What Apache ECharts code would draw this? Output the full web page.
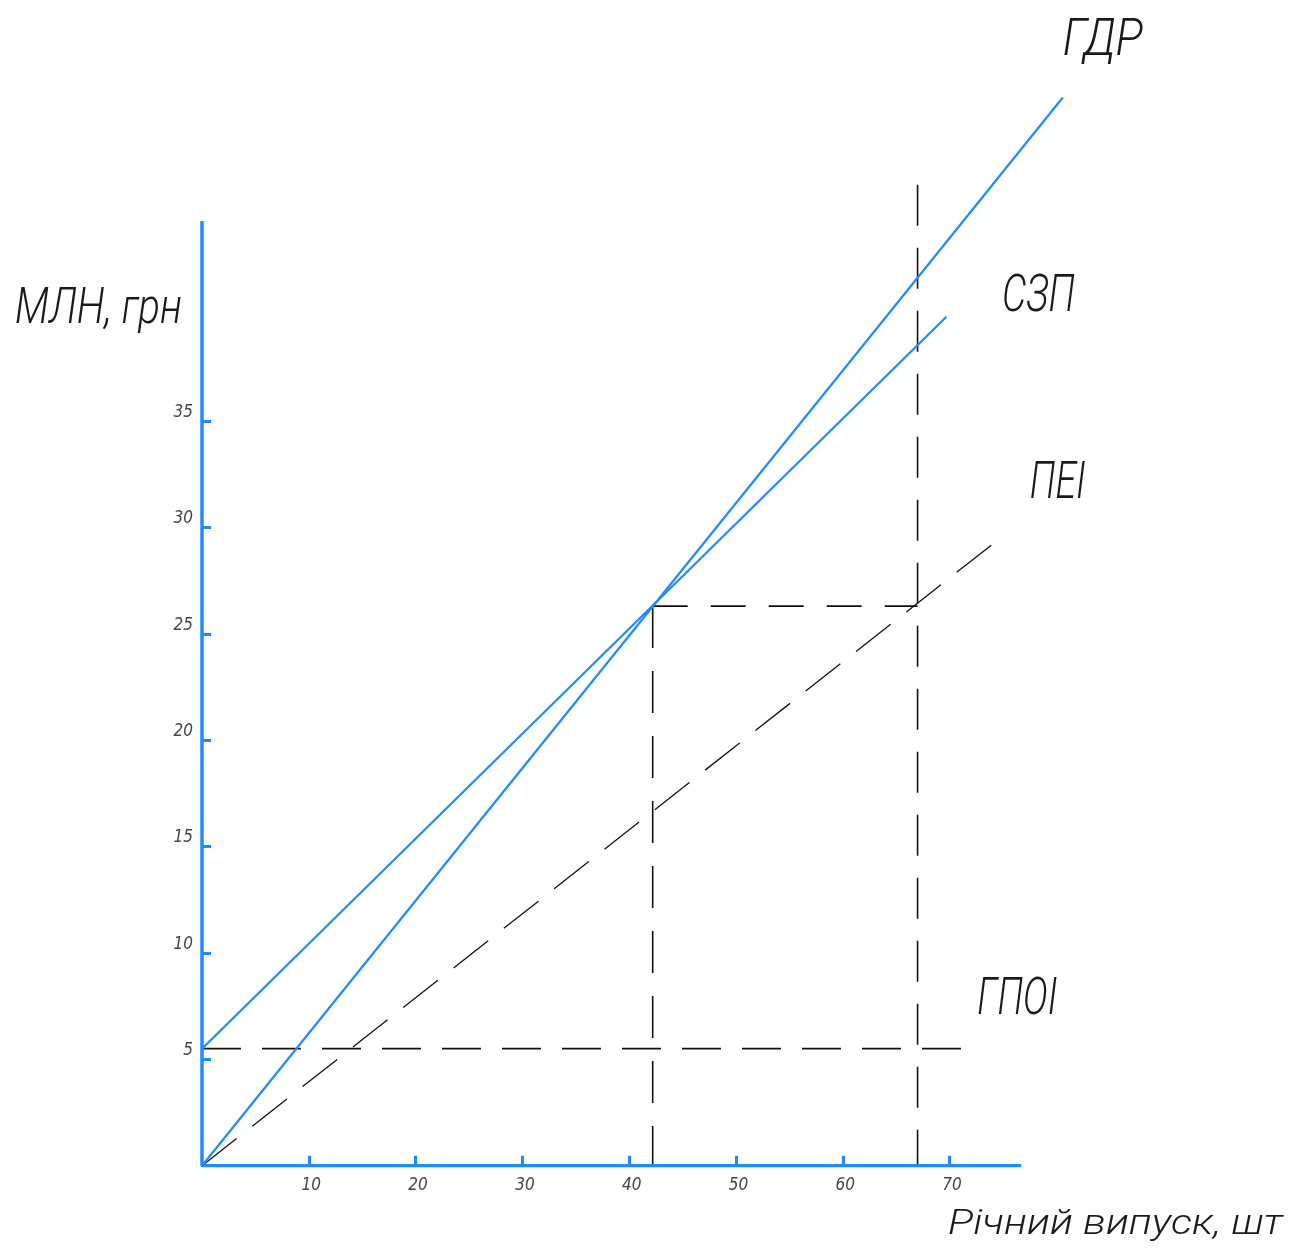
<!DOCTYPE html>
<html><head><meta charset="utf-8">
<script src="https://cdn.jsdelivr.net/npm/echarts@6/dist/echarts.min.js"></script>
<style>html,body{margin:0;padding:0;background:#fff}#c{width:1290px;height:1254px}</style>
</head><body><div id="c"></div>
<script>
// ---- data ----
const xTicks = [10, 20, 30, 40, 50, 60, 70];
const yTicks = [5, 10, 15, 20, 25, 30, 35];
const axisFrame = [[0, 44.4], [0, 0], [76.7, 0]];
const revenueGDR = [[0, 0], [80.6, 50.2]];
const totalCostSZP = [[0, 5.5], [69.7, 39.9]];
const variableCostPEI = [[0, 0], [74.5, 29.4]];
const fixedCostGPOI = [[0, 5.5], [72.0, 5.5]];
const breakEvenV = [[42.2, 26.3], [42.2, 0]];
const breakEvenH = [[42.2, 26.3], [67, 26.3]];
const capacityV = [[67, 46.1], [67, 0]];
const lineNames = ['ГДР', 'СЗП', 'ПЕІ', 'ГПОІ'];
const lineNameAnchors = [[80.6, 52.8], [74.9, 40.8], [77.5, 32.0], [72.6, 7.75]];
const lineNameWidths = [80, 73, 56, 80];
const yTitle = 'МЛН, грн';
const xTitle = 'Річний випуск, шт';

const FONT = '"DejaVu Sans Condensed", "DejaVu Sans", sans-serif';
const TFONT = 'Roboto, "DejaVu Sans", sans-serif';
const BLUE = '#1f8bff';
const BLACK = '#111';

function lineSeries(data, color, width, type) {
  return {
    type: 'line', data: data, symbol: 'none', showSymbol: false, silent: true,
    lineStyle: { color: color, width: width, type: type || 'solid' }, z: type ? 2 : 3
  };
}

const option = {
  animation: false,
  backgroundColor: '#fff',
  grid: { left: 202, right: 20, top: 16.7, bottom: 88.3 },
  xAxis: {
    type: 'value', min: 0, max: 100,
    splitLine: { show: false },
    axisLine: { show: false },
    axisTick: { show: true, inside: true, length: 10, customValues: xTicks, lineStyle: { color: BLUE, width: 3 } },
    axisLabel: { customValues: xTicks, margin: 11, fontStyle: 'italic', fontSize: 17, color: '#444', fontFamily: FONT, padding: [0, 0, 0, 5] }
  },
  yAxis: {
    type: 'value', min: 0, max: 54,
    splitLine: { show: false },
    axisLine: { show: false },
    axisTick: { show: true, inside: true, length: 9, customValues: yTicks, lineStyle: { color: BLUE, width: 3 } },
    axisLabel: { customValues: yTicks, margin: 9, verticalAlign: 'bottom', fontStyle: 'italic', fontSize: 17, color: '#444', fontFamily: FONT }
  },
  series: [
    lineSeries(axisFrame, BLUE, 3.5),
    lineSeries(revenueGDR, BLUE, 2.2),
    lineSeries(totalCostSZP, BLUE, 2.2),
    lineSeries(variableCostPEI, BLACK, 1.3, [44, 20]),
    lineSeries(fixedCostGPOI, BLACK, 1.6, [39, 21]),
    lineSeries(breakEvenV, BLACK, 1.6, [42, 23]),
    lineSeries(breakEvenH, BLACK, 1.6, [35, 23]),
    lineSeries(capacityV, BLACK, 1.6, [41, 22])
  ]
};

const chart = echarts.init(document.getElementById('c'), null, { renderer: 'canvas' });
chart.setOption(option);

const ctx = document.createElement('canvas').getContext('2d');
function mk(text, px, py, size, w) {
  ctx.font = 'italic 300 ' + size + 'px ' + TFONT;
  const m = ctx.measureText(text).width;
  return {
    type: 'text', x: px, y: py, scaleX: w / m, silent: true,
    style: { text: text, fontSize: size, fontStyle: 'italic', fontWeight: 300, fontFamily: TFONT, fill: '#1a1a1a', align: 'left', verticalAlign: 'middle' }
  };
}
const g = [];
lineNames.forEach(function (n, i) {
  const p = chart.convertToPixel({ gridIndex: 0 }, lineNameAnchors[i]);
  g.push(mk(n, p[0], p[1], 52, lineNameWidths[i]));
});
g.push(mk(yTitle, 15, 310, 50, 167));
g.push(mk(xTitle, 948, 1225.5, 35, 335));
chart.setOption({ graphic: g });
</script>
</body></html>
